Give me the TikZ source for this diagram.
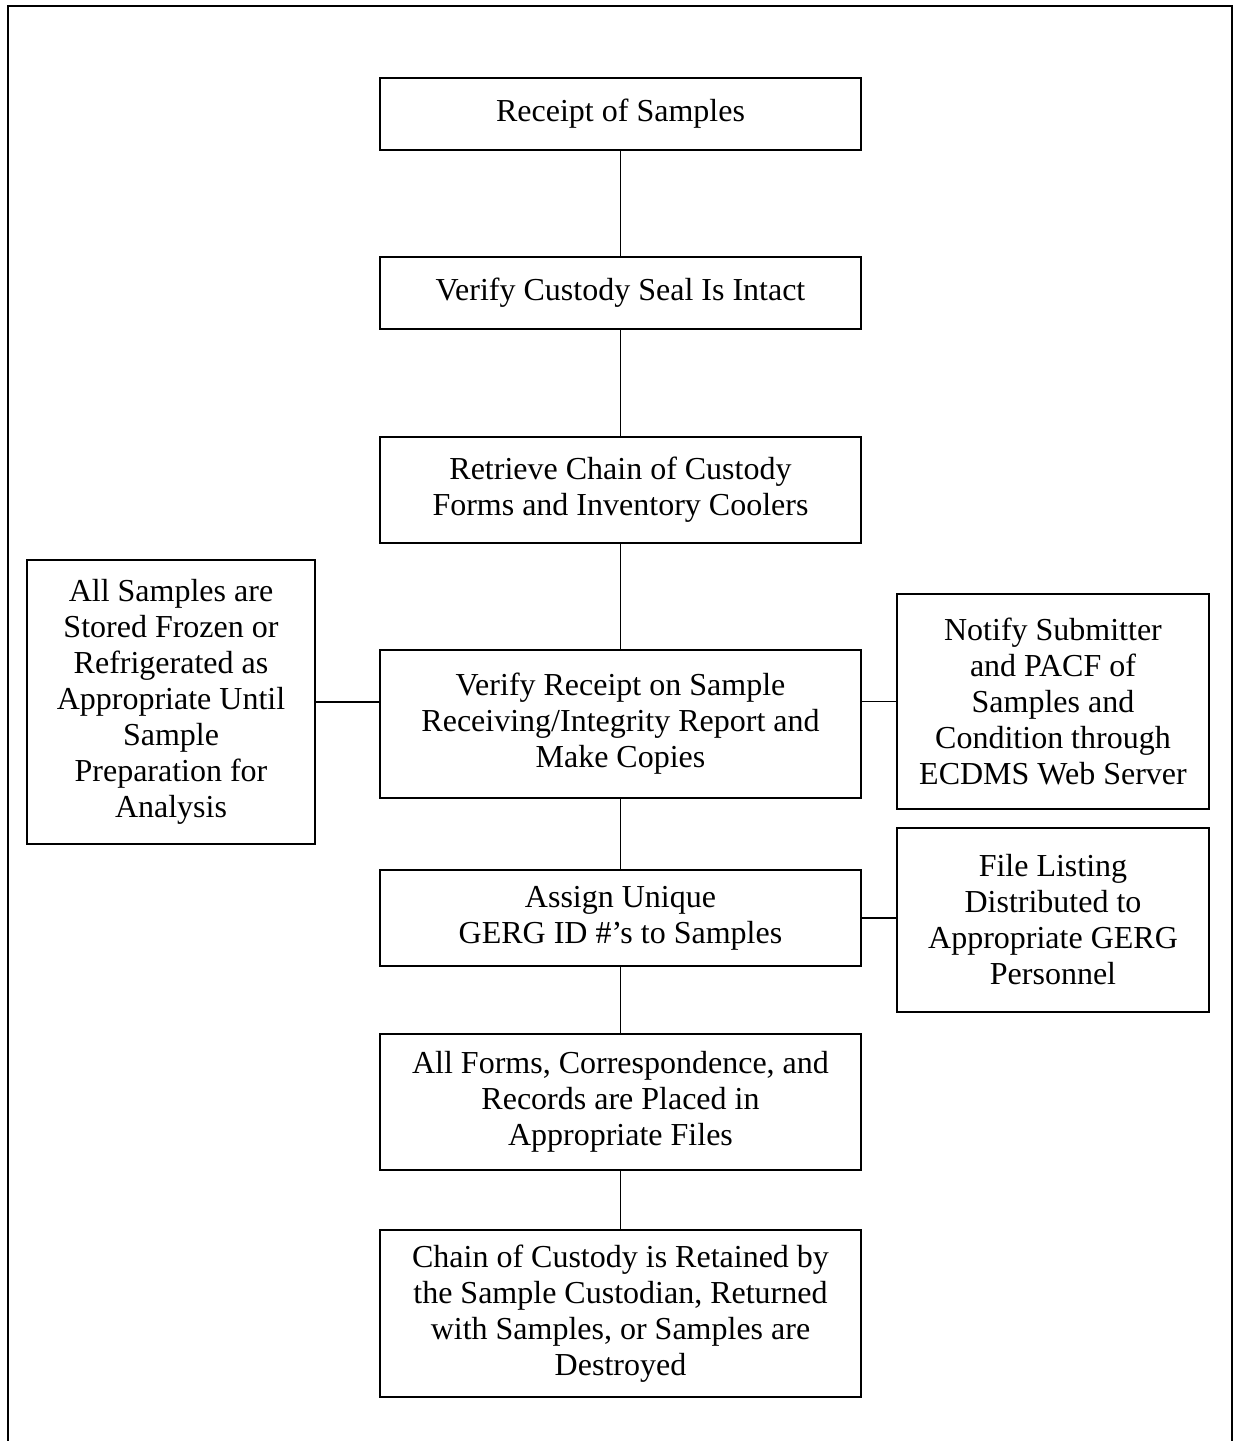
\documentclass[tikz,border=0pt]{standalone}
\usepackage{fontspec}
\setmainfont{Liberation Serif}
\begin{document}
\begin{tikzpicture}[x=1pt,y=-1pt,
  box/.style={draw,line width=1.3pt,rectangle,align=center,inner sep=0pt,
    font=\fontsize{32}{36}\selectfont},
  conn/.style={line width=1.3pt}]
\useasboundingbox (0,0) rectangle (1235,1441);
\draw[line width=2pt] (8,1441) -- (8,6) -- (1232,6) -- (1232,1441);
\node[box,minimum width=481pt,minimum height=72pt] (b1) at (620.5,114) {Receipt of Samples};
\node[box,minimum width=481pt,minimum height=72pt] (b2) at (620.5,293) {Verify Custody Seal Is Intact};
\node[box,minimum width=481pt,minimum height=106pt] (b3) at (620.5,490) {Retrieve Chain of Custody\\Forms and Inventory Coolers};
\node[box,minimum width=481pt,minimum height=148pt] (b4) at (620.5,724) {Verify Receipt on Sample\\Receiving/Integrity Report and\\Make Copies};
\node[box,minimum width=481pt,minimum height=96pt] (b5) at (620.5,918) {Assign Unique\\GERG ID \#’s to Samples};
\node[box,minimum width=481pt,minimum height=136pt] (b6) at (620.5,1102) {All Forms, Correspondence, and\\Records are Placed in\\Appropriate Files};
\node[box,minimum width=481pt,minimum height=167pt] (b7) at (620.5,1313.5) {Chain of Custody is Retained by\\the Sample Custodian, Returned\\with Samples, or Samples are\\Destroyed};
\node[box,minimum width=288pt,minimum height=284pt] (L) at (171,702) {All Samples are\\Stored Frozen or\\Refrigerated as\\Appropriate Until\\Sample\\Preparation for\\Analysis};
\node[box,minimum width=312pt,minimum height=215pt] (R1) at (1053,701.5) {Notify Submitter\\and PACF of\\Samples and\\Condition through\\ECDMS Web Server};
\node[box,minimum width=312pt,minimum height=184pt] (R2) at (1053,920) {File Listing\\Distributed to\\Appropriate GERG\\Personnel};
\draw[conn] (b1.south) -- (b2.north);
\draw[conn] (b2.south) -- (b3.north);
\draw[conn] (b3.south) -- (b4.north);
\draw[conn] (b4.south) -- (b5.north);
\draw[conn] (b5.south) -- (b6.north);
\draw[conn] (b6.south) -- (b7.north);
\draw[conn] (L.east) -- (L.east -| b4.west);
\draw[conn] (R1.west -| b4.east) -- (R1.west);
\draw[conn] (b5.east) -- (b5.east -| R2.west);
\end{tikzpicture}
\end{document}
